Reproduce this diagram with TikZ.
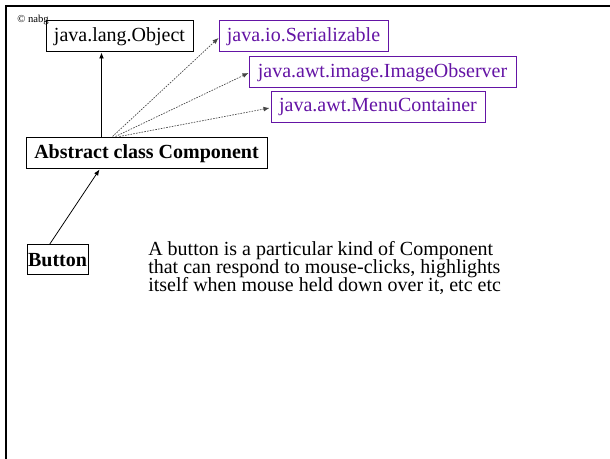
\documentclass[tikz,border=0pt]{standalone}
\usepackage{fontspec}
\setmainfont{Liberation Serif}
\usetikzlibrary{arrows.meta,calc}
\definecolor{ifacepurple}{RGB}{100,20,165}
\definecolor{dotgray}{RGB}{70,70,70}
\newcommand{\tightlines}{\setlength{\lineskiplimit}{-10pt}}
\begin{document}
\begin{tikzpicture}[x=0.75pt,y=-0.75pt,
  classbox/.style={draw=black,line width=0.75pt,inner sep=0pt,
    minimum height=23.25pt,font=\fontsize{15}{18}\selectfont},
  ifacebox/.style={draw=ifacepurple,line width=0.75pt,inner sep=0pt,
    minimum height=23.25pt,text=ifacepurple,font=\fontsize{15}{18}\selectfont},
  inherits/.style={line width=0.6pt,-{Latex[length=4.5pt,width=3.6pt]}},
  implements/.style={draw=dotgray,line width=0.5pt,dash pattern=on 1.2pt off 0.9pt,
    -{Latex[length=4.5pt,width=3.6pt]}}]
\useasboundingbox (0,0) rectangle (610,459);
\fill[white] (0,0) rectangle (610,459);

% slide frame
\draw[line width=1.5pt] (6,459) -- (6,6) -- (610,6);

% copyright note
\node[anchor=base west,inner sep=0pt,font=\fontsize{8}{9}\selectfont] (copy) at (17,23) {© nabg};

% classes
\node[classbox,minimum width=110.25pt] (obj) at (119.5,36.5) {java.lang.Object};
\node[classbox,minimum width=180.75pt,font=\fontsize{15}{18}\selectfont\bfseries] (comp) at (146.5,153.5) {Abstract class Component};
\node[classbox,minimum width=45.75pt,minimum height=22.5pt,font=\fontsize{15}{18}\selectfont\bfseries] (btn) at (57.5,260) {Button};

% interfaces
\node[ifacebox,minimum width=126.75pt] (ser) at (303.5,36.5) {java.io.Serializable};
\node[ifacebox,minimum width=200.25pt] (imgobs) at (382.5,72.5) {java.awt.image.ImageObserver};
\node[ifacebox,minimum width=160.5pt] (menu) at (378,107.5) {java.awt.MenuContainer};

% description (anchored on the baseline of its last line)
\node[anchor=base west,inner sep=0pt,align=left,
  font=\fontsize{15}{13.6}\selectfont\tightlines] (desc) at (148,291.5)
  {A button is a particular kind of Component\\
   that can respond to mouse-clicks, highlights\\
   itself when mouse held down over it, etc etc};

% connectors
\coordinate (c0) at ($(comp.north west)+(76,0)$);
\coordinate (c1) at ($(comp.north west)+(87,-1)$);
\coordinate (c2) at ($(comp.north west)+(90,-1)$);
\coordinate (c3) at ($(comp.north west)+(94,-1)$);
\draw[inherits] (c0) -- (c0 |- obj.south);
\draw[implements] (c1) -- ($(ser.west)+(0,1.5)$);
\draw[implements] (c2) -- ($(imgobs.west)+(0,0.5)$);
\draw[implements] (c3) -- ($(menu.west)+(-1,0.5)$);
\coordinate (b0) at ($(btn.north west)+(23,0)$);
\draw[inherits] (b0) -- ($(comp.south west)+(74,0)$);
\end{tikzpicture}
\end{document}
